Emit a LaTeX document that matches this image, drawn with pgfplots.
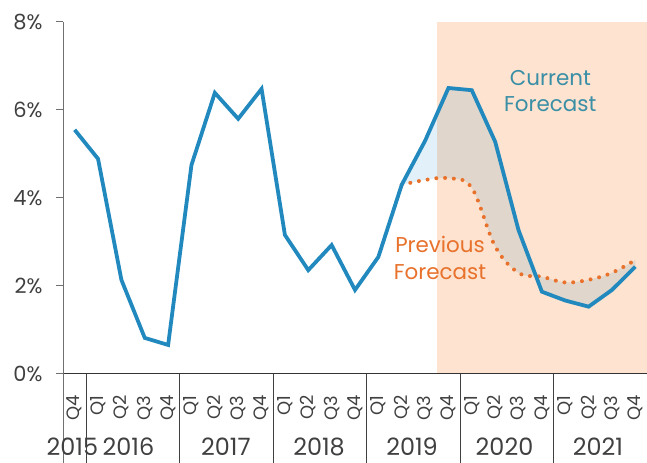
\documentclass[border=0pt]{standalone}
\usepackage{pgfplots}
\pgfplotsset{compat=1.18}
\usepgfplotslibrary{fillbetween}
\usepackage{fontspec}
\setmainfont{Poppins}
\definecolor{cblue}{HTML}{2189BE}
\definecolor{corange}{HTML}{E8712B}
\definecolor{peach}{HTML}{FDE3D0}
\definecolor{lblue}{HTML}{E2F1F9}
\definecolor{tealtxt}{HTML}{3A8FA6}
\definecolor{txt}{HTML}{404040}
\definecolor{axgray}{HTML}{707070}
\begin{document}
\begin{tikzpicture}
\begin{axis}[
  scale only axis, width=584bp, height=352bp,
  xmin=-0.5, xmax=24.5, ymin=0, ymax=8,
  axis x line=bottom, axis y line=left,
  axis line style={-, draw=axgray, line width=1pt},
  x axis line style={draw=black!80},
  ytick={0,2,4,6,8}, yticklabels={0\%,2\%,4\%,6\%,8\%},
  y tick label style={font=\fontsize{21}{21}\selectfont, text=txt},
  yticklabel shift=10bp,
  ytick style={draw=axgray, line width=1pt},
  tick align=outside, major tick length=7bp,
  xtick={0,...,24},
  xticklabels={Q4,Q1,Q2,Q3,Q4,Q1,Q2,Q3,Q4,Q1,Q2,Q3,Q4,Q1,Q2,Q3,Q4,Q1,Q2,Q3,Q4,Q1,Q2,Q3,Q4},
  x tick label style={rotate=90, anchor=east, font=\fontsize{18}{18}\selectfont, text=txt},
  xticklabel shift=11bp,
  xtick style={draw=none},
  clip=false, axis on top,
]
\addplot[name path=cur, draw=none] coordinates {
 (14,4.30)(15,5.30)(16,6.50)(17,6.45)(18,5.28)(19,3.27)(20,1.87)(21,1.67)(22,1.53)(23,1.91)(24,2.44)};
\addplot[name path=prev, draw=none, smooth, tension=0.6] coordinates {
 (14,4.30)(15,4.41)(16,4.45)(17,4.23)(18,2.90)(19,2.30)(20,2.21)(21,2.08)(22,2.14)(23,2.30)(24,2.59)};
\addplot[lblue] fill between[of=cur and prev];

\fill[peach, blend mode=multiply] (axis cs:15.5,0) rectangle (axis cs:24.5,8);

\addplot[corange, line width=4bp, dash pattern=on 0pt off 8.8bp, line cap=round, smooth, tension=0.6] coordinates {
 (14,4.30)(15,4.41)(16,4.45)(17,4.23)(18,2.90)(19,2.30)(20,2.21)(21,2.08)(22,2.14)(23,2.30)(24,2.59)};

\addplot[cblue, line width=3.8pt, line join=miter] coordinates {
 (0,5.55)(1,4.89)(2,2.14)(3,0.82)(4,0.66)
 (5,4.75)(6,6.39)(7,5.80)(8,6.48)
 (9,3.16)(10,2.36)(11,2.93)(12,1.91)
 (13,2.66)(14,4.30)(15,5.30)(16,6.50)
 (17,6.45)(18,5.28)(19,3.27)(20,1.87)
 (21,1.67)(22,1.53)(23,1.91)(24,2.44)};

\draw[black!75, line width=0.8pt] (axis cs:0.5,0) -- ++(0pt,-89bp);
\draw[black!75, line width=0.8pt] (axis cs:4.5,0) -- ++(0pt,-89bp);
\draw[black!75, line width=0.8pt] (axis cs:8.5,0) -- ++(0pt,-89bp);
\draw[black!75, line width=0.8pt] (axis cs:12.5,0) -- ++(0pt,-89bp);
\draw[black!75, line width=0.8pt] (axis cs:16.5,0) -- ++(0pt,-89bp);
\draw[black!75, line width=0.8pt] (axis cs:20.5,0) -- ++(0pt,-89bp);
\draw[axgray, line width=1pt] (axis cs:-0.5,0) -- ++(0pt,-89bp);

\node[anchor=base, yshift=-82bp, inner sep=0pt, font=\fontsize{24}{24}\selectfont, text=txt] at (axis cs:-0.1,0) {2015};
\node[anchor=base, yshift=-82bp, inner sep=0pt, font=\fontsize{24}{24}\selectfont, text=txt] at (axis cs:2.3,0) {2016};
\node[anchor=base, yshift=-82bp, inner sep=0pt, font=\fontsize{24}{24}\selectfont, text=txt] at (axis cs:6.47,0) {2017};
\node[anchor=base, yshift=-82bp, inner sep=0pt, font=\fontsize{24}{24}\selectfont, text=txt] at (axis cs:10.46,0) {2018};
\node[anchor=base, yshift=-82bp, inner sep=0pt, font=\fontsize{24}{24}\selectfont, text=txt] at (axis cs:14.44,0) {2019};
\node[anchor=base, yshift=-82bp, inner sep=0pt, font=\fontsize{24}{24}\selectfont, text=txt] at (axis cs:18.4,0) {2020};
\node[anchor=base, yshift=-82bp, inner sep=0pt, font=\fontsize{24}{24}\selectfont, text=txt] at (axis cs:22.4,0) {2021};

\node[tealtxt, align=center, font=\fontsize{21.5}{27}\selectfont] at (axis cs:20.36,6.43) {Current\\Forecast};
\node[corange, align=center, font=\fontsize{21.5}{27}\selectfont] at (axis cs:15.64,2.64) {Previous\\Forecast};
\end{axis}
\pgfresetboundingbox
\useasboundingbox ([shift={(-63bp,-89bp)}]current axis.south west) rectangle ([shift={(0bp,22bp)}]current axis.north east);
\end{tikzpicture}
\end{document}
